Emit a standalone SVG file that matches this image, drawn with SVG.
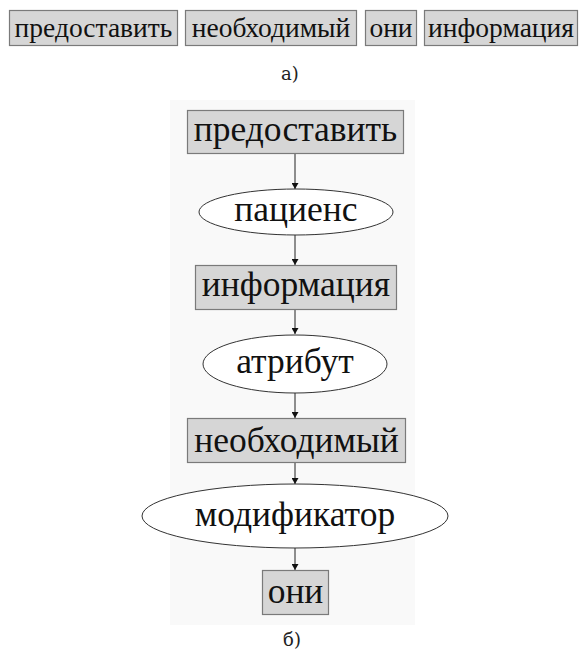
<svg xmlns="http://www.w3.org/2000/svg" width="579" height="653" viewBox="0 0 579 653">
<defs>
<style>
.box{fill:#d6d6d6;stroke:#7a7a7a;stroke-width:1.2}
.ell{fill:#ffffff;stroke:#333;stroke-width:1}
.t1{font-family:'Liberation Serif',serif;font-size:27.5px;fill:#111;text-anchor:middle}
.t2{font-family:'Liberation Serif',serif;font-size:35.5px;fill:#111;text-anchor:middle}
.cap{font-family:'DejaVu Serif',serif;font-size:18px;fill:#222;text-anchor:middle}
.edge{stroke:#222;stroke-width:1;fill:none;marker-end:url(#ah)}
</style>
<marker id="ah" markerWidth="6" markerHeight="7" refX="6" refY="3.5" orient="auto" markerUnits="userSpaceOnUse">
<path d="M0,0 L6,3.5 L0,7 z" fill="#111"/>
</marker>
</defs>
<rect width="579" height="653" fill="#ffffff"/>
<g id="row-a">
<g id="a-predostavit"><rect class="box" x="9.5" y="10.5" width="168" height="35"/><text class="t1" x="93.5" y="37">предоставить</text></g>
<g id="a-neobhodimy"><rect class="box" x="185.5" y="10.5" width="171" height="35"/><text class="t1" x="271" y="37">необходимый</text></g>
<g id="a-oni"><rect class="box" x="365.5" y="10.5" width="51" height="35"/><text class="t1" x="391" y="37">они</text></g>
<g id="a-informatsiya"><rect class="box" x="424.5" y="10.5" width="153" height="35"/><text class="t1" x="501" y="37">информация</text></g>
</g>
<text class="cap" x="290" y="80">а)</text>
<rect x="170" y="100" width="245" height="525" fill="#f9f9f9"/>
<g id="connectors">
<line class="edge" x1="295" y1="154" x2="295" y2="189"/>
<line class="edge" x1="295" y1="235" x2="295" y2="265"/>
<line class="edge" x1="295" y1="310" x2="295" y2="334"/>
<line class="edge" x1="295" y1="393" x2="295" y2="418"/>
<line class="edge" x1="295" y1="462" x2="295" y2="484"/>
<line class="edge" x1="295" y1="548" x2="295" y2="570"/>
</g>
<g id="n-predostavit"><rect class="box" x="187.5" y="110.5" width="216" height="43"/><text class="t2" x="295.5" y="141">предоставить</text></g>
<g id="n-patsiens"><ellipse class="ell" cx="296" cy="212" rx="97" ry="23"/><text class="t2" x="296" y="221">пациенс</text></g>
<g id="n-informatsiya"><rect class="box" x="195.5" y="265.5" width="201" height="44"/><text class="t2" x="296" y="296">информация</text></g>
<g id="n-atribut"><ellipse class="ell" cx="295" cy="364" rx="92" ry="29"/><text class="t2" x="295" y="373">атрибут</text></g>
<g id="n-neobhodimy"><rect class="box" x="187.5" y="418.5" width="218" height="44"/><text class="t2" x="296.5" y="452">необходимый</text></g>
<g id="n-modifikator"><ellipse class="ell" cx="295" cy="516" rx="153" ry="32"/><text class="t2" x="295" y="526">модификатор</text></g>
<g id="n-oni"><rect class="box" x="262.5" y="570.5" width="66" height="44"/><text class="t2" x="295.5" y="603">они</text></g>
<text class="cap" x="292" y="646">б)</text>
</svg>
